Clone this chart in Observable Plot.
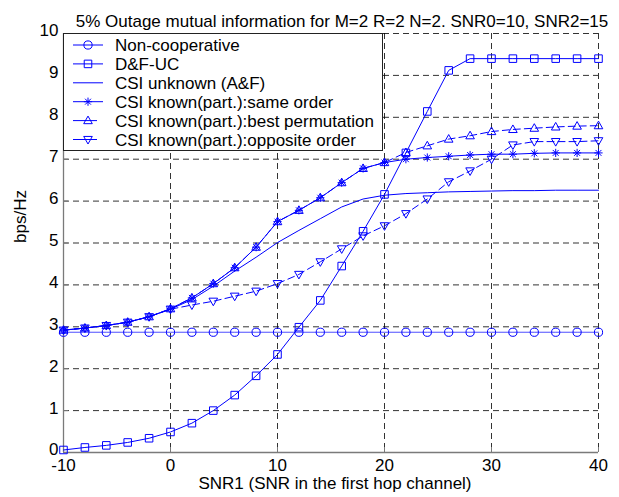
<!DOCTYPE html>
<html><head><meta charset="utf-8">
<script src="https://cdn.jsdelivr.net/npm/d3@7"></script>
<script src="https://cdn.jsdelivr.net/npm/@observablehq/plot@0.6"></script>
<style>
body{margin:0;background:#fff;}
#wrap{position:relative;width:619px;height:497px;font-family:"Liberation Sans",Arial,sans-serif;}
#wrap svg{position:absolute;left:0;top:0;}
</style></head><body><div id="wrap"></div>
<script>
const snr = [-10,-8,-6,-4,-2,0,2,4,6,8,10,12,14,16,18,20,22,24,26,28,30,32,34,36,38,40];
const nonCoop = [2.87,2.87,2.87,2.87,2.87,2.87,2.87,2.87,2.87,2.87,2.87,2.87,2.87,2.87,2.87,2.87,2.87,2.87,2.87,2.87,2.87,2.87,2.87,2.87,2.87,2.87];
const dfUC = [0.06,0.12,0.17,0.24,0.34,0.49,0.70,1.00,1.37,1.83,2.34,2.99,3.63,4.45,5.28,6.16,7.15,8.14,9.12,9.40,9.40,9.40,9.40,9.40,9.40,9.40];
const afUnknown = [2.92,2.97,3.03,3.11,3.24,3.42,3.65,3.97,4.33,4.66,5.01,5.30,5.58,5.86,6.05,6.14,6.18,6.20,6.22,6.23,6.24,6.25,6.25,6.26,6.26,6.26];
const sameOrder = [2.92,2.97,3.03,3.11,3.24,3.43,3.69,4.03,4.41,4.90,5.51,5.78,6.08,6.44,6.78,6.92,7.00,7.04,7.07,7.10,7.12,7.12,7.14,7.15,7.15,7.15];
const bestPerm = [2.92,2.97,3.03,3.11,3.24,3.43,3.69,4.03,4.41,4.90,5.51,5.78,6.08,6.44,6.78,6.92,7.16,7.32,7.48,7.56,7.66,7.71,7.74,7.77,7.79,7.80];
const oppOrder = [2.92,2.97,3.03,3.11,3.24,3.42,3.52,3.61,3.73,3.85,4.03,4.25,4.55,4.86,5.17,5.41,5.70,6.05,6.46,6.72,7.00,7.34,7.42,7.42,7.42,7.44];
const seriesNames = ["Non-cooperative","D&F-UC","CSI unknown (A&F)","CSI known(part.):same order","CSI known(part.):best permutation","CSI known(part.):opposite order"];
const xTicks = [-10,0,10,20,30,40];
const yTicks = [0,1,2,3,4,5,6,7,8,9,10];
const titleText = "5% Outage mutual information for M=2 R=2 N=2. SNR0=10, SNR2=15";
const xLabel = "SNR1 (SNR in the first hop channel)";
const yLabel = "bps/Hz";

const W = 619, H = 497, mL = 63, mR = 21, mT = 33, mB = 45;
const fw = W - mL - mR, fh = H - mT - mB;
const blue = "#0000ff";
const FS = 17;

function sym(fn){ return {draw(c, size){ fn(c, Math.sqrt(size/Math.PI)); }}; }
const circleSym = sym((c,s)=>{ c.moveTo(s,0); c.arc(0,0,s,0,2*Math.PI); });
const squareSym = sym((c,s)=>{ const h=s*0.92; c.moveTo(-h,-h); c.lineTo(h,-h); c.lineTo(h,h); c.lineTo(-h,h); c.closePath(); });
const starSym = sym((c,s)=>{ const d=s*0.72; c.moveTo(-s,0); c.lineTo(s,0); c.moveTo(0,-s); c.lineTo(0,s); c.moveTo(-d,-d); c.lineTo(d,d); c.moveTo(-d,d); c.lineTo(d,-d); });
const triUp = sym((c,s)=>{ c.moveTo(0,-s*1.1); c.lineTo(s*1.05,s*0.75); c.lineTo(-s*1.05,s*0.75); c.closePath(); });
const triDown = sym((c,s)=>{ c.moveTo(0,s*1.1); c.lineTo(s*1.05,-s*0.75); c.lineTo(-s*1.05,-s*0.75); c.closePath(); });

const series = [
  {name: seriesNames[0], values: nonCoop, symbol: circleSym, dash: null, width: 0.7},
  {name: seriesNames[1], values: dfUC, symbol: squareSym, dash: null, width: 1},
  {name: seriesNames[2], values: afUnknown, symbol: null, dash: null, width: 1},
  {name: seriesNames[3], values: sameOrder, symbol: starSym, dash: null, width: 1},
  {name: seriesNames[4], values: bestPerm, symbol: triUp, dash: "7,4", width: 1},
  {name: seriesNames[5], values: oppOrder, symbol: triDown, dash: "7,4", width: 1}
];
const rows = s => snr.map((x,i)=>({x, y: s.values[i]}));

const marks = [
  Plot.gridX(xTicks, {stroke:"#000", strokeOpacity:0.8, strokeDasharray:"6,4"}),
  Plot.gridY(yTicks, {stroke:"#000", strokeOpacity:0.8, strokeDasharray:"6,4"}),
  Plot.tickY(yTicks, {stroke:"#7a7a7a", insetRight: fw - 5}),
  Plot.tickX(xTicks, {stroke:"#7a7a7a", insetTop: fh - 5}),
  Plot.ruleX([xTicks[0]], {stroke:"#7a7a7a", strokeWidth:1.3}),
  Plot.ruleY([yTicks[0]], {stroke:"#7a7a7a", strokeWidth:1.3}),
  Plot.axisX(xTicks, {tickSize:0, tickPadding:6, fontSize:FS, label:null, tickFormat: d=>String(d)}),
  Plot.axisY(yTicks, {tickSize:0, tickPadding:5, dy:-2.5, fontSize:FS, label:null}),
];
for (const s of series) {
  marks.push(Plot.line(rows(s), {x:"x", y:"y", stroke: blue, strokeWidth: s.width, strokeDasharray: s.dash ?? undefined}));
  if (s.symbol) marks.push(Plot.dot(rows(s), {x:"x", y:"y", symbol: s.symbol, r: 4.1, stroke: blue, fill: "none", strokeWidth: 1}));
}
marks.push(Plot.text([titleText], {frameAnchor:"top", dy:-19, dx:11, fontSize:FS, fill:"#000"}));
marks.push(Plot.text([xLabel], {frameAnchor:"bottom", dy:36, dx:4, fontSize:FS, fill:"#000"}));
marks.push(Plot.text([yLabel], {frameAnchor:"left", rotate:-90, dx:-43, dy:0, fontSize:FS, fill:"#000"}));

const chart = Plot.plot({
  width: W, height: H,
  marginLeft: mL, marginRight: mR, marginTop: mT, marginBottom: mB,
  x: {domain: [xTicks[0], xTicks[xTicks.length-1]]},
  y: {domain: [yTicks[0], yTicks[yTicks.length-1]]},
  style: {fontFamily: '"Liberation Sans", Arial, sans-serif', fontSize: FS+"px", background: "#fff", color: "#000"},
  marks
});
const wrap = document.getElementById("wrap");
wrap.appendChild(chart);

// legend overlay
const lg = d3.select(wrap).append("svg").attr("width", W).attr("height", H)
  .style("font-family", '"Liberation Sans", Arial, sans-serif').style("font-size", FS+"px");
const lx = 63.5, ly = 33.5, lw = 319, lh = 117;
lg.append("rect").attr("x", lx).attr("y", ly).attr("width", lw).attr("height", lh)
  .attr("fill", "#fff").attr("stroke", "#222").attr("stroke-width", 1);
const rowY = i => 45 + i * 18.9;
series.forEach((s, i) => {
  const y = rowY(i);
  lg.append("line").attr("x1", 73).attr("x2", s.dash ? 97 : 103).attr("y1", y).attr("y2", y)
    .attr("stroke", blue).attr("stroke-width", 1);
  if (s.symbol) {
    const p = d3.path();
    s.symbol.draw(p, 4.1*4.1*Math.PI);
    lg.append("path").attr("d", p.toString()).attr("transform", `translate(88,${y})`)
      .attr("fill", "none").attr("stroke", blue).attr("stroke-width", 1);
  }
  lg.append("text").attr("x", 115).attr("y", y).attr("dy", "0.36em").attr("fill", "#000").text(s.name);
});
</script></body></html>
